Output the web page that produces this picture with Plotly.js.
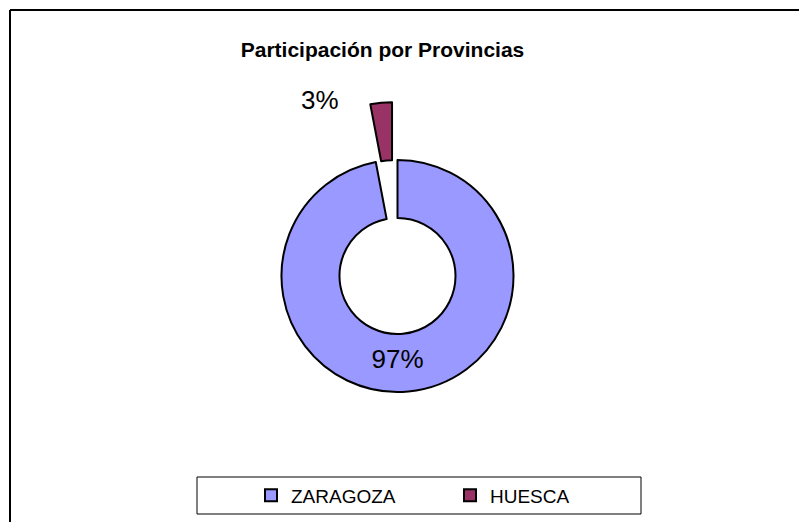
<!DOCTYPE html>
<html>
<head>
<meta charset="utf-8">
<script src="https://cdn.plot.ly/plotly-3.0.1.min.js"></script>
<style>html,body{margin:0;padding:0;background:#fff;}#chart{width:799px;height:522px;}</style>
</head>
<body>
<div id="chart"></div>
<script>
const provinces = ["ZARAGOZA", "HUESCA"];
const shares = [97, 3];
const sliceColors = ["#9999FF", "#993366"];
const pulls = [0, 0.5];
const titleText = "Participación por Provincias";

const W = 799, H = 522;
const px = v => v / W;
const py = v => 1 - v / H;
const FONT = "Liberation Sans, Arial, sans-serif";

const trace = {
  type: "pie",
  labels: provinces,
  values: shares,
  sort: false,
  direction: "clockwise",
  rotation: 0,
  hole: 0.5,
  pull: pulls,
  marker: { colors: sliceColors, line: { color: "#000", width: 2 } },
  texttemplate: ["%{value}%", ""],
  textinfo: "text",
  textposition: ["inside", "none"],
  insidetextorientation: "horizontal",
  insidetextfont: { family: FONT, size: 26, color: "#000" },
  textfont: { family: FONT, size: 26, color: "#000" },
  domain: { x: [px(223.5), px(571.5)], y: [py(450), py(102)] },
  hoverinfo: "label+percent"
};

const layout = {
  width: W, height: H,
  margin: { l: 0, r: 0, t: 0, b: 0 },
  paper_bgcolor: "#fff",
  title: {
    text: "<b>" + titleText + "</b>",
    font: { family: FONT, size: 21, color: "#000" },
    x: px(382.5), xanchor: "center", xref: "paper",
    y: py(50), yanchor: "middle", yref: "paper"
  },
  showlegend: true,
  legend: {
    orientation: "h",
    x: px(251), xanchor: "left",
    y: py(495.5), yanchor: "middle",
    bgcolor: "rgba(0,0,0,0)",
    borderwidth: 0,
    entrywidth: 154, entrywidthmode: "pixels",
    font: { family: FONT, size: 19, color: "#000" },
    traceorder: "normal"
  },
  annotations: [
    { xref: "paper", yref: "paper", x: px(320), y: py(100), xanchor: "center", yanchor: "middle",
      text: shares[1] + "%", showarrow: false, font: { family: FONT, size: 26, color: "#000" } }
  ],
  shapes: [
    { type: "rect", xref: "paper", yref: "paper", x0: px(197), x1: px(641), y0: py(514), y1: py(477),
      line: { color: "#000", width: 1 }, fillcolor: "rgba(0,0,0,0)", layer: "below" },
    { type: "line", xref: "paper", yref: "paper", x0: px(10), x1: px(805), y0: py(10), y1: py(10),
      line: { color: "#000", width: 2 } },
    { type: "line", xref: "paper", yref: "paper", x0: px(10), x1: px(10), y0: py(10), y1: py(530),
      line: { color: "#000", width: 2 } }
  ]
};

Plotly.newPlot("chart", [trace], layout, { displayModeBar: false, staticPlot: true });
</script>
</body>
</html>
